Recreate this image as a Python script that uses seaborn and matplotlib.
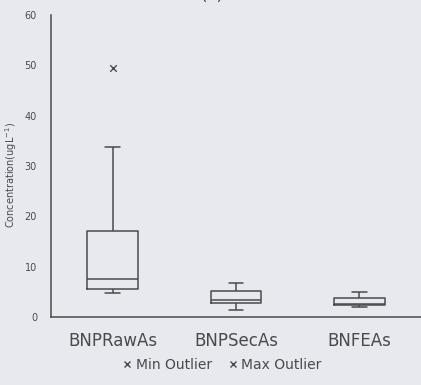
import matplotlib
matplotlib.use("Agg")
import matplotlib.pyplot as plt
from matplotlib.lines import Line2D
import seaborn as sns
import pandas as pd

# Five-number summaries per treatment stage (concentration, ug/L)
sites = ["BNPRawAs", "BNPSecAs", "BNFEAs"]
whisker_low = [4.7, 1.4, 2.0]
quartile1 = [5.6, 2.8, 2.3]
medians = [7.5, 3.3, 2.5]
quartile3 = [17.1, 5.1, 3.7]
whisker_high = [33.8, 6.7, 5.0]

# Extreme values plotted as separate markers
max_outlier_site = ["BNPRawAs"]
max_outlier_value = [49.5]

y_ticks = [0, 10, 20, 30, 40, 50, 60]

bg = "#e8e9ee"
ink = "#4a4a4e"

sns.set_theme(style="white")
plt.rcParams["font.family"] = ["DejaVu Sans"]

rows = []
for s, a, b, c, d, e in zip(sites, whisker_low, quartile1, medians, quartile3, whisker_high):
    for v in (a, b, c, d, e):
        rows.append({"site": s, "value": v})
df = pd.DataFrame(rows)
out_df = pd.DataFrame({"site": max_outlier_site, "value": max_outlier_value})

fig = plt.figure(figsize=(4.21, 3.85), dpi=100, facecolor=bg)
ax = fig.add_axes([0.121, 0.177, 0.879, 0.784])
ax.set_facecolor(bg)

line_kw = dict(color=ink, linewidth=1.1)
sns.boxplot(data=df, x="site", y="value", order=sites, whis=(0, 100),
            width=0.41, fill=False, color=ink, linewidth=1.1,
            boxprops=line_kw, medianprops=line_kw, whiskerprops=line_kw,
            capprops=line_kw, showfliers=False, ax=ax)
# shorten caps
for ln in ax.lines:
    xd = ln.get_xdata()
    if len(xd) == 2 and xd[0] != xd[1]:
        yd = ln.get_ydata()
        if yd[0] == yd[1] and abs(xd[1] - xd[0]) < 0.25:
            mid = (xd[0] + xd[1]) / 2
            ln.set_xdata([mid - 0.06, mid + 0.06])

sns.scatterplot(data=out_df, x="site", y="value", marker="x", s=22,
                color=ink, linewidth=1.0, ax=ax, legend=False)

ax.set_xlim(-0.5, 2.5)
ax.set_ylim(0, 60)
ax.set_yticks(y_ticks)
ax.set_yticklabels([str(t) for t in y_ticks], fontsize=7, color=ink)
ax.set_xticks(range(len(sites)))
ax.set_xticklabels(sites, fontsize=12, color=ink)
ax.set_xticks([0.5, 1.5], minor=True)
ax.tick_params(axis="x", which="major", length=0, pad=11)
ax.tick_params(axis="x", which="minor", length=3, width=1, color=ink, direction="out")
ax.tick_params(axis="y", length=3, width=1, color=ink, direction="out", pad=7)
ax.set_xlabel("")
ax.set_ylabel("Concentration(ugL$^{-1}$)", fontsize=7, color=ink, labelpad=4)
ax.yaxis.set_label_coords(-0.085, 0.47)

for side in ("top", "right"):
    ax.spines[side].set_visible(False)
for side in ("left", "bottom"):
    ax.spines[side].set_color(ink)
    ax.spines[side].set_linewidth(1.1)

handles = [
    Line2D([], [], marker="x", linestyle="none", color=ink, markersize=4.5, label="Min Outlier"),
    Line2D([], [], marker="x", linestyle="none", color=ink, markersize=4.5, label="Max Outlier"),
]
fig.legend(handles=handles, loc="center", bbox_to_anchor=(0.525, 0.052), ncol=2,
           frameon=False, fontsize=10, labelcolor=ink, handletextpad=0.1,
           columnspacing=1.0, handlelength=1.0)

fig.text(0.505, 1.012, "(a)", ha="center", va="center", fontsize=12, color=ink)

fig.savefig("out.png", dpi=100, facecolor=bg)
